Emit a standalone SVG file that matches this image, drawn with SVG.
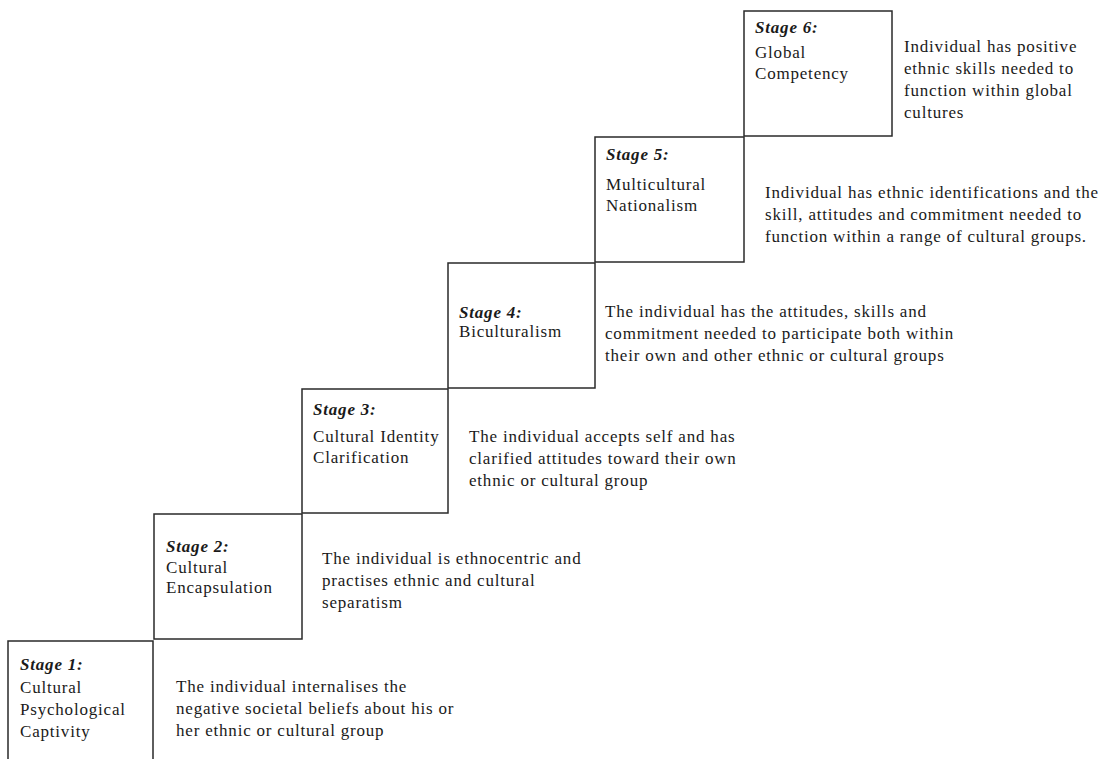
<svg xmlns="http://www.w3.org/2000/svg" width="1104" height="759" viewBox="0 0 1104 759">
<style>
.box{fill:none;stroke:#2a2a2a;stroke-width:1.5}
text{font-family:"Liberation Serif","Times New Roman",serif;font-size:17px;letter-spacing:0.8px;fill:#1a1a1a}
.st{font-weight:bold;font-style:italic}
</style>
<rect width="1104" height="759" fill="#ffffff"/>
<g id="stage1">
<path class="box" d="M8,759 V641 H153 V759"/>
<text x="20" y="670" class="st">Stage 1:</text>
<text x="20" y="693">Cultural</text>
<text x="20" y="715">Psychological</text>
<text x="20" y="737">Captivity</text>
<text x="176" y="692">The individual internalises the</text>
<text x="176" y="714">negative societal beliefs about his or</text>
<text x="176" y="736">her ethnic or cultural group</text>
</g>
<g id="stage2">
<rect class="box" x="154" y="514" width="148" height="125"/>
<text x="166" y="552" class="st">Stage 2:</text>
<text x="166" y="573">Cultural</text>
<text x="166" y="593">Encapsulation</text>
<text x="322" y="564">The individual is ethnocentric and</text>
<text x="322" y="586">practises ethnic and cultural</text>
<text x="322" y="608">separatism</text>
</g>
<g id="stage3">
<rect class="box" x="302" y="389" width="146" height="124"/>
<text x="313" y="415" class="st">Stage 3:</text>
<text x="313" y="442">Cultural Identity</text>
<text x="313" y="463">Clarification</text>
<text x="469" y="442">The individual accepts self and has</text>
<text x="469" y="464">clarified attitudes toward their own</text>
<text x="469" y="486">ethnic or cultural group</text>
</g>
<g id="stage4">
<rect class="box" x="448" y="263" width="147" height="125"/>
<text x="459" y="318" class="st">Stage 4:</text>
<text x="459" y="337">Biculturalism</text>
<text x="605" y="317">The individual has the attitudes, skills and</text>
<text x="605" y="339">commitment needed to participate both within</text>
<text x="605" y="361">their own and other ethnic or cultural groups</text>
</g>
<g id="stage5">
<rect class="box" x="595" y="137" width="149" height="125"/>
<text x="606" y="160" class="st">Stage 5:</text>
<text x="606" y="190">Multicultural</text>
<text x="606" y="211">Nationalism</text>
<text x="765" y="198">Individual has ethnic identifications and the</text>
<text x="765" y="220">skill, attitudes and commitment needed to</text>
<text x="765" y="242">function within a range of cultural groups.</text>
</g>
<g id="stage6">
<rect class="box" x="744" y="11" width="148" height="125"/>
<text x="755" y="33" class="st">Stage 6:</text>
<text x="755" y="58">Global</text>
<text x="755" y="79">Competency</text>
<text x="904" y="52">Individual has positive</text>
<text x="904" y="74">ethnic skills needed to</text>
<text x="904" y="96">function within global</text>
<text x="904" y="118">cultures</text>
</g>
<g id="connectors"/>
</svg>
